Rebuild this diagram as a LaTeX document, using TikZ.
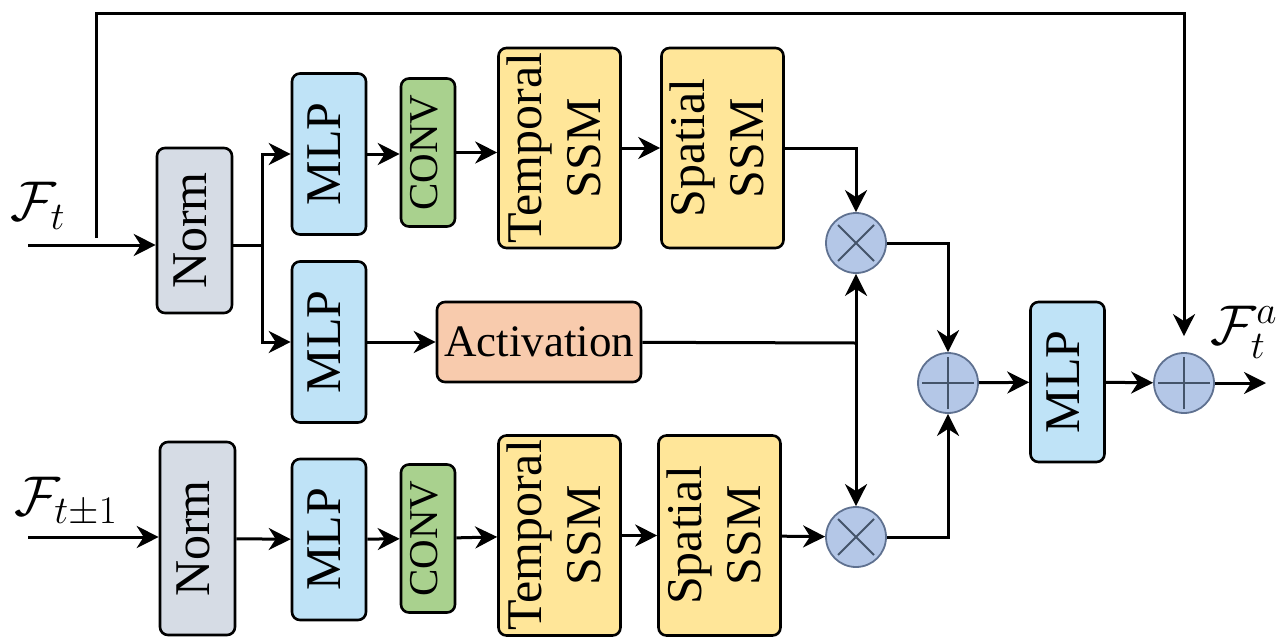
\RequirePackage{fix-cm}
\documentclass[tikz,border=0pt]{standalone}
\usepackage{fontspec}
\setmainfont{Liberation Serif}
\usepackage{amsmath}
\usepackage{graphicx}
\usetikzlibrary{arrows.meta,positioning}
\definecolor{nrmGrey}{HTML}{D6DCE5}
\definecolor{mlpBlue}{HTML}{BFE3F7}
\definecolor{convGreen}{HTML}{A9D18E}
\definecolor{ssmYellow}{HTML}{FFE699}
\definecolor{actSalmon}{HTML}{F8CBAD}
\definecolor{opBlue}{HTML}{B4C7E7}
\definecolor{opEdge}{HTML}{5F7190}
\definecolor{opMark}{HTML}{44546A}
\newcommand{\vlab}[1]{\rotatebox{90}{\begin{tabular}{@{}c@{}}#1\end{tabular}}}
\tikzset{
  wire/.style={line width=1.5pt, draw=black},
  arr/.style={-{Stealth[length=11pt,width=11pt,inset=3.5pt]}, line width=1.5pt, draw=black},
  blk/.style={draw=black, line width=1.3pt, rounded corners=4pt, inner sep=0pt, align=center, font=\fontsize{25}{29.5}\selectfont},
  normbox/.style={blk, fill=nrmGrey, minimum width=37.5pt},
  mlpbox/.style={blk, fill=mlpBlue, minimum width=37pt, minimum height=80.5pt},
  convbox/.style={blk, fill=convGreen, minimum width=27pt, minimum height=74pt, font=\fontsize{20.5}{24}\selectfont},
  ssmbox/.style={blk, fill=ssmYellow, minimum width=61pt, minimum height=100pt},
  actbox/.style={blk, fill=actSalmon, minimum width=102pt, minimum height=40pt, font=\fontsize{22.5}{26}\selectfont},
  opnode/.style={circle, draw=opEdge, fill=opBlue, line width=0.9pt, minimum size=30pt, inner sep=0pt},
  mulop/.style={opnode, path picture={\draw[opMark, line width=1pt, shift={(path picture bounding box.center)}] (-9pt,-9pt) -- (9pt,9pt) (-9pt,9pt) -- (9pt,-9pt);}},
  addop/.style={opnode, path picture={\draw[opMark, line width=1pt, shift={(path picture bounding box.center)}] (-13pt,0) -- (13pt,0) (0,-13pt) -- (0,13pt);}},
  lbl/.style={font=\fontsize{28}{33}\selectfont, inner sep=0pt}
}
\begin{document}
\begin{tikzpicture}[x=0.5pt,y=-0.5pt]
  \useasboundingbox (0,0) rectangle (1278,637);
  \node[normbox, minimum height=82.5pt] (normA) at (194.5,230.5) {\vlab{Norm}};
  \node[normbox, minimum height=96.5pt] (normB) at (197.5,538.5) {\vlab{Norm}};
  \node[mlpbox] (mlpA) at (329,154) {\vlab{MLP}};
  \node[mlpbox] (mlpM) at (329,342) {\vlab{MLP}};
  \node[mlpbox] (mlpB) at (329,539.5) {\vlab{MLP}};
  \node[convbox] (convA) at (428,152.5) {\vlab{CONV}};
  \node[convbox] (convB) at (428,538.5) {\vlab{CONV}};
  \node[ssmbox] (tempA) at (559.5,148) {\vlab{Temporal\\SSM}};
  \node[ssmbox] (tempB) at (559.5,535.5) {\vlab{Temporal\\SSM}};
  \node[ssmbox] (spatA) at (722.5,148) {\vlab{Spatial\\SSM}};
  \node[ssmbox] (spatB) at (719.5,535.5) {\vlab{Spatial\\SSM}};
  \node[actbox] (act) at (539,342) {Activation};
  \node[mulop] (mulA) at (856,243) {};
  \node[mulop] (mulB) at (856,537) {};
  \node[addop] (addM) at (948,383) {};
  \node[mlpbox, minimum height=80pt] (mlpO) at (1067.5,382) {\vlab{MLP}};
  \node[addop] (addO) at (1184,383) {};
  \node[lbl] (lblA) at (38,206) {$\mathcal{F}_t$};
  \node[lbl] (lblB) at (66,502) {$\mathcal{F}_{t\pm1}$};
  \node[lbl] (lblO) at (1244,332) {$\mathcal{F}_t^a$};
  \coordinate (inA) at (28,245);
  \coordinate (inB) at (28,537);
  \coordinate (skip) at (96,238);
  \coordinate (skipTop) at (1184,13);
  \coordinate (brA) at (262,245);
  \coordinate (jn) at (856,343);
  \coordinate (out) at (1266,383);
  \draw[arr] (inA) -- (inA -| normA.west);
  \draw[arr, shorten >=8pt] (skip) |- (skipTop) -- (addO.north);
  \draw[wire] (inA -| normA.east) -- (brA);
  \draw[arr] (brA) |- (mlpA);
  \draw[arr] (brA) |- (mlpM);
  \draw[arr] (mlpA.east) -- (mlpA.east -| convA.west);
  \draw[arr] (convA.east) -- (convA.east -| tempA.west);
  \draw[arr] (tempA) -- (spatA);
  \draw[arr] (spatA.east) -| (mulA);
  \draw[arr] (mlpM) -- (act);
  \draw[wire] (act) -- (jn);
  \draw[arr] (jn) -- (mulA);
  \draw[arr] (jn) -- (mulB);
  \draw[arr] (inB) -- (inB -| normB.west);
  \draw[arr] (normB) -- (mlpB);
  \draw[arr] (mlpB) -- (convB);
  \draw[arr] (convB) -- (tempB);
  \draw[arr] (tempB) -- (spatB);
  \draw[arr] (spatB) -- (mulB);
  \draw[arr] (mulA) -| (addM);
  \draw[arr] (mulB) -| (addM);
  \draw[arr] (addM) -- (mlpO);
  \draw[arr] (mlpO) -- (addO);
  \draw[arr] (addO) -- (out);
\end{tikzpicture}
\end{document}
